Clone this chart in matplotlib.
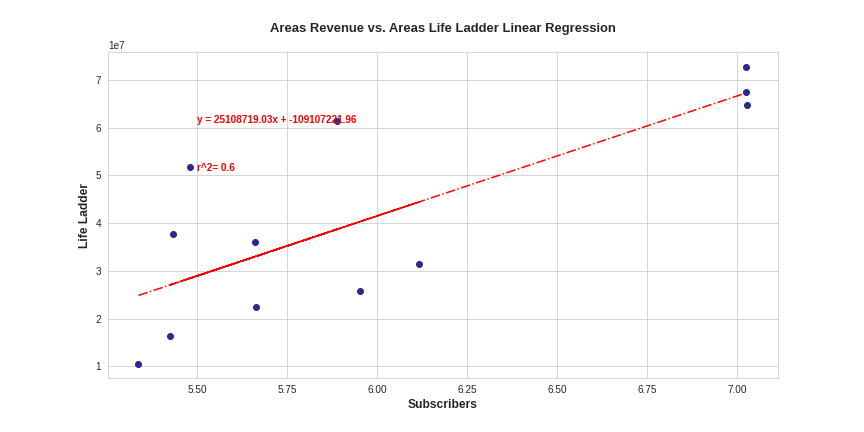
import numpy as np
import matplotlib
matplotlib.use("Agg")
import matplotlib.pyplot as plt
import seaborn as sns

# values
subscribers = [5.336, 5.425, 5.433, 5.478, 5.661, 5.664, 5.889, 5.953, 6.117, 7.025, 7.025, 7.028]
life_ladder = [1.06e7, 1.63e7, 3.77e7, 5.17e7, 3.60e7, 2.24e7, 6.14e7, 2.59e7, 3.14e7, 7.27e7, 6.75e7, 6.48e7]
# the fit line is drawn through the points in unsorted order, as in the original
line_order = [0, 2, 6, 1, 8, 5, 3, 4, 7, 9, 10, 11]
slope = 25108719.03
intercept = -109107221.96
r_squared = 0.6

sns.set_style("whitegrid")
plt.rcParams['font.family'] = ['Liberation Sans', 'DejaVu Sans']

fig, ax = plt.subplots(figsize=(12, 6), dpi=72)
fig.subplots_adjust(left=0.125, right=0.9, top=0.879, bottom=0.124)

x = np.array(subscribers)
y = np.array(life_ladder)
ax.scatter(x, y, color='#2a2a8c', s=36, zorder=3)

xl = x[line_order]
ax.plot(xl, slope * xl + intercept, color='red', linestyle='-.', linewidth=1.5, zorder=2)

ax.text(5.5, 6.1e7, f"y = {slope:.2f}x + {intercept:.2f}", color='red', fontweight='bold', fontsize=10)
ax.text(5.5, 5.1e7, f"r^2= {r_squared}", color='red', fontweight='bold', fontsize=10)

ax.set_title("Areas Revenue vs. Areas Life Ladder Linear Regression", fontweight='bold', fontsize=13, pad=20)
ax.set_xlabel("Subscribers", fontweight='bold', fontsize=12)
ax.set_ylabel("Life Ladder", fontweight='bold', fontsize=12)

fig.savefig("out.png", dpi=72)
